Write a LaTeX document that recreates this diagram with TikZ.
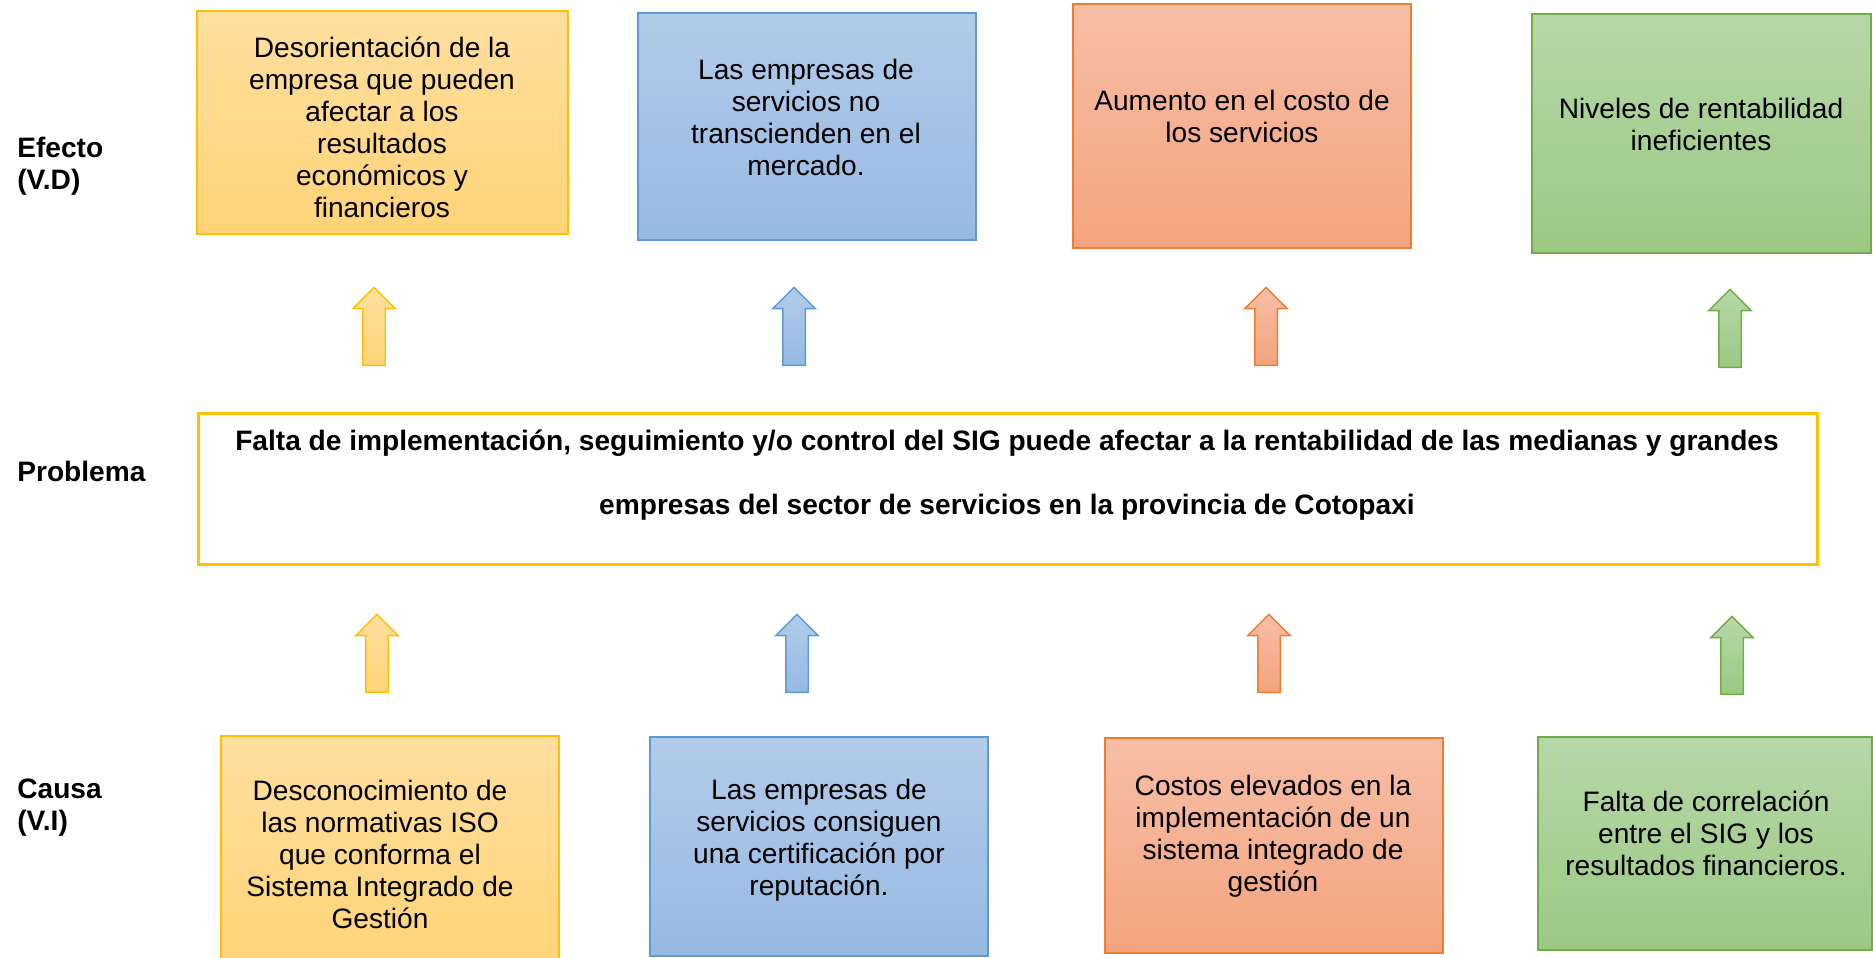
\documentclass[tikz,border=0pt]{standalone}
\usepackage{fontspec}
\setmainfont{Liberation Sans}
\usepackage{tikz}
\usetikzlibrary{shapes.arrows}
\definecolor{amarilloBorde}{HTML}{FFC000}
\definecolor{amarilloArriba}{HTML}{FFDF9F}
\definecolor{amarilloAbajo}{HTML}{FFD478}
\definecolor{azulBorde}{HTML}{5B9BD5}
\definecolor{azulArriba}{HTML}{B3CBE9}
\definecolor{azulAbajo}{HTML}{96B9E2}
\definecolor{naranjaBorde}{HTML}{ED7D31}
\definecolor{naranjaArriba}{HTML}{F7BEA6}
\definecolor{naranjaAbajo}{HTML}{F4A47E}
\definecolor{verdeBorde}{HTML}{70AD47}
\definecolor{verdeArriba}{HTML}{B7D7A8}
\definecolor{verdeAbajo}{HTML}{9CC883}

\begin{document}
\begin{tikzpicture}[
    x=0.02cm, y=-0.02cm,
    % 方框样式定义
    caja/.style={
        rectangle,           % 矩形
        draw,                % 绘制边框
        line width=0.85pt,   % 边框线宽
        inner sep=0pt        % 内部填充为0
    },
    amarillo/.style={draw=amarilloBorde, top color=amarilloArriba, bottom color=amarilloAbajo},
    azul/.style={draw=azulBorde, top color=azulArriba, bottom color=azulAbajo},
    naranja/.style={draw=naranjaBorde, top color=naranjaArriba, bottom color=naranjaAbajo},
    verde/.style={draw=verdeBorde, top color=verdeArriba, bottom color=verdeAbajo},
    % 文字样式定义
    texto/.style={
        align=center,        % 居中
        inner sep=0pt,
        font=\fontsize{16}{18.2}\selectfont
    },
    etiqueta/.style={
        anchor=west,
        align=left,
        inner sep=0pt,
        font=\bfseries\fontsize{16}{18.2}\selectfont
    },
    % 箭头样式定义 (向上的粗箭头)
    flecha/.style={
        single arrow,
        shape border rotate=90,       % 指向上方
        minimum height=1.56cm,        % 箭头长度
        inner sep=0.21cm,             % 箭杆宽度的一半
        single arrow head extend=0.2cm,
        line width=0.85pt
    }
]
\useasboundingbox (0,0) rectangle (1873,957);

% 左侧标签
\node[etiqueta] (lefecto) at (17,166) {Efecto\\(V.D)};
\node[etiqueta] (lproblema) at (17,471) {Problema};
\node[etiqueta] (lcausa) at (17,808) {Causa\\(V.I)};

% 效果方框
\node[caja, amarillo, minimum width=7.42cm, minimum height=4.46cm] (e1) at (382.5,122.5) {};
\node[caja, azul, minimum width=6.76cm, minimum height=4.54cm] (e2) at (807,126.5) {};
\node[caja, naranja, minimum width=6.76cm, minimum height=4.88cm] (e3) at (1242,126) {};
\node[caja, verde, minimum width=6.78cm, minimum height=4.78cm] (e4) at (1701.5,133.5) {};
\node[texto] (e1t) at (382,127) {Desorientación de la\\empresa que pueden\\afectar a los\\resultados\\económicos y\\financieros};
\node[texto] (e2t) at (806,117) {Las empresas de\\servicios no\\transcienden en el\\mercado.};
\node[texto] (e3t) at (1242,116) {Aumento en el costo de\\los servicios};
\node[texto] (e4t) at (1701,124) {Niveles de rentabilidad\\ineficientes};

% 上面的箭头
\node[flecha, amarillo] (fe1) at (374,332) {};
\node[flecha, azul] (fe2) at (794,332) {};
\node[flecha, naranja] (fe3) at (1266,332) {};
\node[flecha, verde] (fe4) at (1730,334) {};

% 问题方框
\node[caja, draw=amarilloBorde, line width=1.7pt, fill=white, minimum width=32.4cm, minimum height=3.04cm] (prob) at (1008,489) {};
\node[texto, font=\bfseries\fontsize{16}{36.4}\selectfont] (probt) at (1007,475) {Falta de implementación, seguimiento y/o control del SIG puede afectar a la rentabilidad de las medianas y grandes\\empresas del sector de servicios en la provincia de Cotopaxi};

% 下面的箭头
\node[flecha, amarillo] (fc1) at (377,659) {};
\node[flecha, azul] (fc2) at (797,659) {};
\node[flecha, naranja] (fc3) at (1269,659) {};
\node[flecha, verde] (fc4) at (1732,661) {};

% 原因方框
\node[caja, amarillo, minimum width=6.76cm, minimum height=4.58cm] (c1) at (390,850.5) {};
\node[caja, azul, minimum width=6.76cm, minimum height=4.38cm] (c2) at (819,846.5) {};
\node[caja, naranja, minimum width=6.76cm, minimum height=4.30cm] (c3) at (1274,845.5) {};
\node[caja, verde, minimum width=6.68cm, minimum height=4.26cm] (c4) at (1705,843.5) {};
\node[texto] (c1t) at (380,854) {Desconocimiento de\\las normativas ISO\\que conforma el\\Sistema Integrado de\\Gestión};
\node[texto] (c2t) at (819,840) {Las empresas de\\servicios consiguen\\una certificación por\\reputación.};
\node[texto] (c3t) at (1273,836) {Costos elevados en la\\implementación de un\\sistema integrado de\\gestión};
\node[texto] (c4t) at (1706,833) {Falta de correlación\\entre el SIG y los\\resultados financieros.};

\end{tikzpicture}
\end{document}
